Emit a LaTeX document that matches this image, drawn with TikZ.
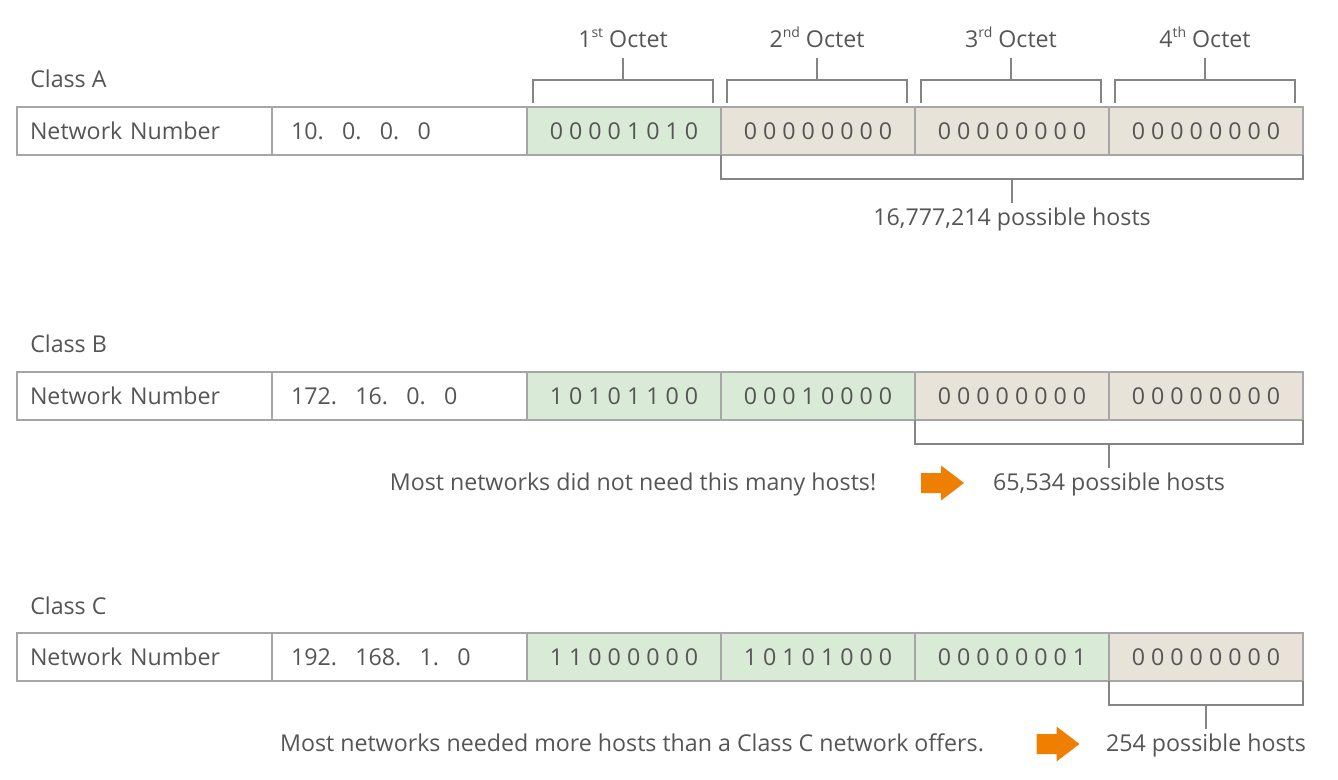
\documentclass[tikz,border=0pt]{standalone}
\usepackage{fontspec}
\setmainfont{Open Sans}
\usetikzlibrary{positioning,calc}

\definecolor{txtgray}{HTML}{555555}
\definecolor{cellline}{HTML}{A6A6A6}
\definecolor{brackline}{HTML}{858585}
\definecolor{netgreen}{HTML}{D9EAD6}
\definecolor{hostbeige}{HTML}{E8E3D9}
\definecolor{hintorange}{HTML}{EE7F00}

\newcommand{\pxu}{0.75pt}
\newcommand{\ipgap}{\hspace{13.75pt}}
\newcommand{\ordsup}[1]{\raisebox{0.42em}{\fontsize{10.5}{12}\selectfont #1}}

\tikzset{
  pics/hintarrow/.style={code={
    \fill[hintorange] (-21.5,-10) -- (-1.5,-10) -- (-1.5,-17.5) -- (21.5,0)
      -- (-1.5,17.5) -- (-1.5,10) -- (-21.5,10) -- cycle;
  }}
}

\begin{document}
\begin{tikzpicture}[x=0.75pt,y=-0.75pt,font=\fontsize{17.4}{21}\selectfont,text=txtgray]
    \tikzstyle{cell}=[draw=cellline,line width=1.5pt,minimum height=48*\pxu,inner sep=0pt,outer sep=0pt,align=left]
    \tikzstyle{octet}=[cell,minimum width=194*\pxu]
    \tikzstyle{bracket}=[draw=brackline,line width=1.5pt]
    \tikzstyle{hostlabel}=[anchor=north,inner sep=2pt,yshift=-1pt]
    \tikzstyle{hint}=[anchor=base,inner sep=0pt]

    \useasboundingbox (0,0) rectangle (1338,780);

    % one row of cells per class
    \foreach \r/\y/\ip/\ng/\bits in {%
      A/131/{10.\ipgap 0.\ipgap 0.\ipgap 0}/1/{{0 0 0 0 1 0 1 0},{0 0 0 0 0 0 0 0},{0 0 0 0 0 0 0 0},{0 0 0 0 0 0 0 0}},%
      B/396/{172.\ipgap 16.\ipgap 0.\ipgap 0}/2/{{1 0 1 0 1 1 0 0},{0 0 0 1 0 0 0 0},{0 0 0 0 0 0 0 0},{0 0 0 0 0 0 0 0}},%
      C/657/{192.\ipgap 168.\ipgap 1.\ipgap 0}/3/{{1 1 0 0 0 0 0 0},{1 0 1 0 1 0 0 0},{0 0 0 0 0 0 0 1},{0 0 0 0 0 0 0 0}}%
    }{
      \node[cell,minimum width=255*\pxu,text width=229*\pxu,anchor=west] (\r-1) at (17,\y) {Network Number};
      \node[cell,minimum width=255*\pxu,text width=217*\pxu,right=0pt of \r-1] (\r-2) {\ip};
      \foreach \b [count=\i from 3] in \bits {
        \pgfmathtruncatemacro\prev{\i-1}
        \ifnum\i>\numexpr\ng+2\relax\def\octfill{hostbeige}\else\def\octfill{netgreen}\fi
        \node[octet,fill=\octfill,right=0pt of \r-\prev] (\r-\i) {\b};
      }
      \node[anchor=base west,inner sep=0pt] (\r-class) at ($(\r-1.north west)+(13,-19)$) {Class \r};
    }

    % octet brackets above class A
    \foreach \i/\lbl in {3/{1\ordsup{st}},4/{2\ordsup{nd}},5/{3\ordsup{rd}},6/{4\ordsup{th}}}{
      \draw[bracket] ($(A-\i.north west)+(6,-4)$) -- ++(0,-23) -| ($(A-\i.north east)+(-8,-4)$);
      \draw[bracket] ($(A-\i.north)+(-1,-27)$) -- ++(0,-22)
        node[anchor=south,inner sep=2pt,yshift=5pt] (oct-\i) {\lbl{} Octet};
    }

    % host brackets below each class
    \foreach \r/\from/\lbl in {A/4/{16,777,214 possible hosts},B/5/{65,534 possible hosts},C/6/{254 possible hosts}}{
      \draw[bracket] (\r-\from.south west) -- ++(0,24) -| (\r-6.south east);
      \coordinate (\r-stem) at ($(\r-\from.south west)!0.5!(\r-6.south east)+(0,24)$);
      \draw[bracket] (\r-stem) -- ++(0,24) node[hostlabel] (\r-hosts) {\lbl};
    }

    % hints
    \pic (B-arrow) at (942.5,483) {hintarrow};
    \node[hint] (B-hint) at (633,490) {Most networks did not need this many hosts!};
    \pic (C-arrow) at (1058,744) {hintarrow};
    \node[hint] (C-hint) at (632,751) {Most networks needed more hosts than a Class C network offers.};
\end{tikzpicture}
\end{document}
